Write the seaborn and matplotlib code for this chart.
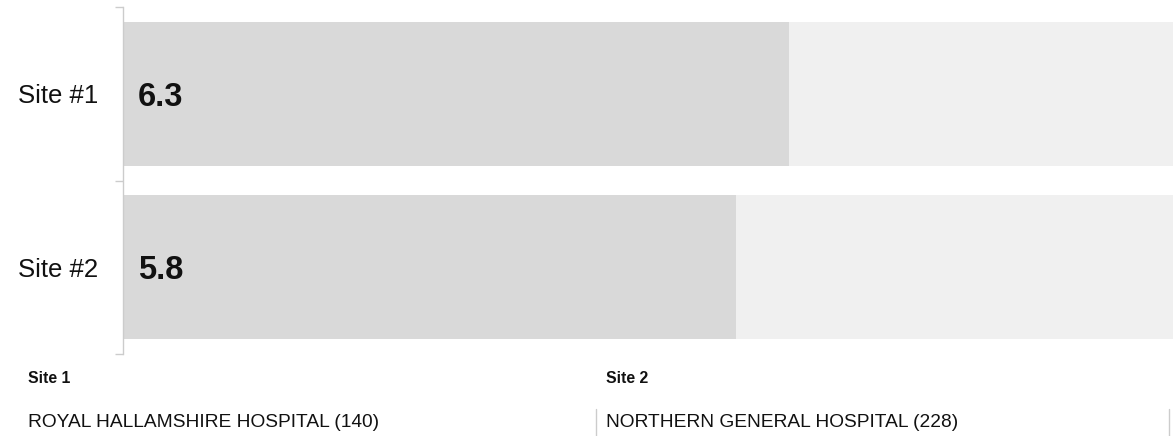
import pandas as pd
import matplotlib.pyplot as plt
import seaborn as sns

sites = ['Site #1', 'Site #2']
scores = [6.3, 5.8]
scale_max = [10, 10]
site_titles = ['Site 1', 'Site 2']
site_names = ['ROYAL HALLAMSHIRE HOSPITAL (140)', 'NORTHERN GENERAL HOSPITAL (228)']

df = pd.DataFrame({'site': sites, 'score': scores, 'max': scale_max})

sns.set_theme(style='white')
plt.rcParams['font.family'] = ['Liberation Sans', 'DejaVu Sans']

fig = plt.figure(figsize=(11.73, 4.36), dpi=100)
# the track runs a little past the right edge of the picture
ax = fig.add_axes([123 / 1173, 1 - 354 / 436, 1057 / 1173, 347 / 436])

# background track, then the score
sns.barplot(data=df, x='max', y='site', color='#f0f0f0', saturation=1, width=0.83,
            linewidth=0, ax=ax)
sns.barplot(data=df, x='score', y='site', color='#d9d9d9', saturation=1, width=0.83,
            linewidth=0, ax=ax)

ax.set_xlim(0, 10)
ax.set_ylim(1.5, -0.5)
ax.set_xlabel('')
ax.set_ylabel('')
ax.set_xticks([])

# ticks sit on the category boundaries, labels in the middle
ax.set_yticks([-0.5, 0.5, 1.5])
ax.set_yticklabels([])
ax.tick_params(axis='y', length=6, width=1, color='#cccccc', left=True)
ax.set_yticks([0, 1], minor=True)
ax.set_yticklabels(sites, minor=True, fontsize=18.5, color='#111111')
ax.tick_params(axis='y', which='minor', length=0, pad=18)

for s in ['top', 'right', 'bottom']:
    ax.spines[s].set_visible(False)
ax.spines['left'].set_color('#cccccc')
ax.spines['left'].set_linewidth(1)

for i, v in enumerate(scores):
    ax.text(0.14, i + 0.02, f'{v:.1f}', va='center', ha='left', fontsize=23.5,
            fontweight='bold', color='#111111')

# site key underneath
xs = [28, 606]
for x, t, n in zip(xs, site_titles, site_names):
    fig.text(x / 1173, 1 - 378 / 436, t, fontsize=11.4, fontweight='bold',
             va='center', ha='left', color='#111111')
    fig.text(x / 1173, 1 - 422 / 436, n, fontsize=13.8, va='center', ha='left',
             color='#111111')
for x in [596, 1169]:
    fig.add_artist(plt.Line2D([x / 1173, x / 1173], [0, 1 - 409 / 436],
                              color='#cccccc', lw=1))

fig.savefig('out.png', dpi=100)
